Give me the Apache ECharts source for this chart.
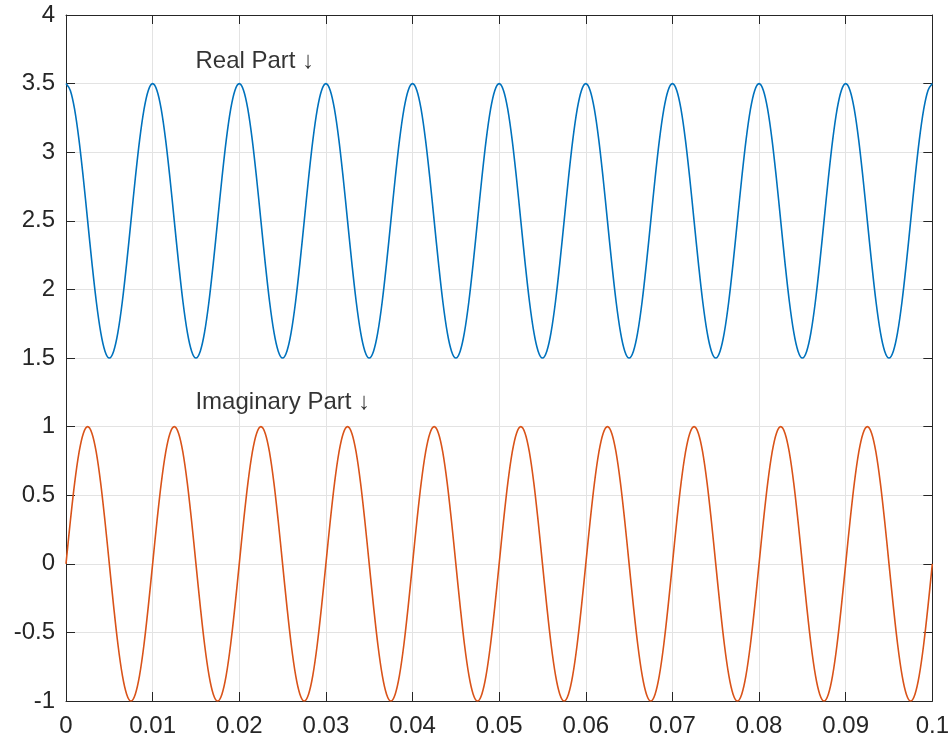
<!DOCTYPE html>
<html>
<head>
<meta charset="utf-8">
<script src="https://cdn.jsdelivr.net/npm/echarts@6/dist/echarts.min.js"></script>
<style>html,body{margin:0;padding:0;background:#fff}#c{width:952px;height:743px}</style>
</head>
<body>
<div id="c"></div>
<script>
const timeValues = [
0,0.0005,0.001,0.0015,0.002,0.0025,0.003,0.0035,0.004,0.0045,0.005,0.0055,0.006,0.0065,0.007,0.0075,0.008,0.0085,0.009,0.0095,
0.01,0.0105,0.011,0.0115,0.012,0.0125,0.013,0.0135,0.014,0.0145,0.015,0.0155,0.016,0.0165,0.017,0.0175,0.018,0.0185,0.019,0.0195,
0.02,0.0205,0.021,0.0215,0.022,0.0225,0.023,0.0235,0.024,0.0245,0.025,0.0255,0.026,0.0265,0.027,0.0275,0.028,0.0285,0.029,0.0295,
0.03,0.0305,0.031,0.0315,0.032,0.0325,0.033,0.0335,0.034,0.0345,0.035,0.0355,0.036,0.0365,0.037,0.0375,0.038,0.0385,0.039,0.0395,
0.04,0.0405,0.041,0.0415,0.042,0.0425,0.043,0.0435,0.044,0.0445,0.045,0.0455,0.046,0.0465,0.047,0.0475,0.048,0.0485,0.049,0.0495,
0.05,0.0505,0.051,0.0515,0.052,0.0525,0.053,0.0535,0.054,0.0545,0.055,0.0555,0.056,0.0565,0.057,0.0575,0.058,0.0585,0.059,0.0595,
0.06,0.0605,0.061,0.0615,0.062,0.0625,0.063,0.0635,0.064,0.0645,0.065,0.0655,0.066,0.0665,0.067,0.0675,0.068,0.0685,0.069,0.0695,
0.07,0.0705,0.071,0.0715,0.072,0.0725,0.073,0.0735,0.074,0.0745,0.075,0.0755,0.076,0.0765,0.077,0.0775,0.078,0.0785,0.079,0.0795,
0.08,0.0805,0.081,0.0815,0.082,0.0825,0.083,0.0835,0.084,0.0845,0.085,0.0855,0.086,0.0865,0.087,0.0875,0.088,0.0885,0.089,0.0895,
0.09,0.0905,0.091,0.0915,0.092,0.0925,0.093,0.0935,0.094,0.0945,0.095,0.0955,0.096,0.0965,0.097,0.0975,0.098,0.0985,0.099,0.0995,
0.1
];
const realPart = [
3.5,3.45,3.31,3.09,2.81,2.5,2.19,1.91,1.69,1.55,1.5,1.55,1.69,1.91,2.19,2.5,2.81,3.09,3.31,3.45,
3.5,3.45,3.31,3.09,2.81,2.5,2.19,1.91,1.69,1.55,1.5,1.55,1.69,1.91,2.19,2.5,2.81,3.09,3.31,3.45,
3.5,3.45,3.31,3.09,2.81,2.5,2.19,1.91,1.69,1.55,1.5,1.55,1.69,1.91,2.19,2.5,2.81,3.09,3.31,3.45,
3.5,3.45,3.31,3.09,2.81,2.5,2.19,1.91,1.69,1.55,1.5,1.55,1.69,1.91,2.19,2.5,2.81,3.09,3.31,3.45,
3.5,3.45,3.31,3.09,2.81,2.5,2.19,1.91,1.69,1.55,1.5,1.55,1.69,1.91,2.19,2.5,2.81,3.09,3.31,3.45,
3.5,3.45,3.31,3.09,2.81,2.5,2.19,1.91,1.69,1.55,1.5,1.55,1.69,1.91,2.19,2.5,2.81,3.09,3.31,3.45,
3.5,3.45,3.31,3.09,2.81,2.5,2.19,1.91,1.69,1.55,1.5,1.55,1.69,1.91,2.19,2.5,2.81,3.09,3.31,3.45,
3.5,3.45,3.31,3.09,2.81,2.5,2.19,1.91,1.69,1.55,1.5,1.55,1.69,1.91,2.19,2.5,2.81,3.09,3.31,3.45,
3.5,3.45,3.31,3.09,2.81,2.5,2.19,1.91,1.69,1.55,1.5,1.55,1.69,1.91,2.19,2.5,2.81,3.09,3.31,3.45,
3.5,3.45,3.31,3.09,2.81,2.5,2.19,1.91,1.69,1.55,1.5,1.55,1.69,1.91,2.19,2.5,2.81,3.09,3.31,3.45,
3.5
];
const imagPart = [
0,0.31,0.59,0.81,0.95,1,0.95,0.81,0.59,0.31,0,-0.31,-0.59,-0.81,-0.95,-1,-0.95,-0.81,-0.59,-0.31,
0,0.31,0.59,0.81,0.95,1,0.95,0.81,0.59,0.31,0,-0.31,-0.59,-0.81,-0.95,-1,-0.95,-0.81,-0.59,-0.31,
0,0.31,0.59,0.81,0.95,1,0.95,0.81,0.59,0.31,0,-0.31,-0.59,-0.81,-0.95,-1,-0.95,-0.81,-0.59,-0.31,
0,0.31,0.59,0.81,0.95,1,0.95,0.81,0.59,0.31,0,-0.31,-0.59,-0.81,-0.95,-1,-0.95,-0.81,-0.59,-0.31,
0,0.31,0.59,0.81,0.95,1,0.95,0.81,0.59,0.31,0,-0.31,-0.59,-0.81,-0.95,-1,-0.95,-0.81,-0.59,-0.31,
0,0.31,0.59,0.81,0.95,1,0.95,0.81,0.59,0.31,0,-0.31,-0.59,-0.81,-0.95,-1,-0.95,-0.81,-0.59,-0.31,
0,0.31,0.59,0.81,0.95,1,0.95,0.81,0.59,0.31,0,-0.31,-0.59,-0.81,-0.95,-1,-0.95,-0.81,-0.59,-0.31,
0,0.31,0.59,0.81,0.95,1,0.95,0.81,0.59,0.31,0,-0.31,-0.59,-0.81,-0.95,-1,-0.95,-0.81,-0.59,-0.31,
0,0.31,0.59,0.81,0.95,1,0.95,0.81,0.59,0.31,0,-0.31,-0.59,-0.81,-0.95,-1,-0.95,-0.81,-0.59,-0.31,
0,0.31,0.59,0.81,0.95,1,0.95,0.81,0.59,0.31,0,-0.31,-0.59,-0.81,-0.95,-1,-0.95,-0.81,-0.59,-0.31,
0
];
const annotationTexts = ['Real Part \u2193', 'Imaginary Part \u2193'];
const annotationT = [0.015, 0.015];
const annotationY = [3.66, 1.17];
const xTickLabels = ['0','0.01','0.02','0.03','0.04','0.05','0.06','0.07','0.08','0.09','0.1'];

const FONT = '"Liberation Sans", Arial, Helvetica, sans-serif';
const AXIS_COLOR = '#262626';
const GRID_COLOR = '#e3e3e3';

const chart = echarts.init(document.getElementById('c'), null, {renderer: 'canvas'});
const realData = timeValues.map((t, i) => [t, realPart[i]]);
const imagData = timeValues.map((t, i) => [t, imagPart[i]]);
const annoData = annotationT.map((t, i) => ({value: [t, annotationY[i]], name: annotationTexts[i]}));

const baseX = {
  type: 'value', min: 0, max: 0.1, interval: 0.01,
  axisLine: {show: true, onZero: false, lineStyle: {color: AXIS_COLOR, width: 1}},
  axisTick: {show: true, inside: true, length: 9, lineStyle: {color: AXIS_COLOR, width: 1}},
};
const baseY = {
  type: 'value', min: -1, max: 4, interval: 0.5,
  axisLine: {show: true, onZero: false, lineStyle: {color: AXIS_COLOR, width: 1}},
  axisTick: {show: true, inside: true, length: 9, lineStyle: {color: AXIS_COLOR, width: 1}},
};

chart.setOption({
  backgroundColor: '#ffffff',
  animation: false,
  grid: {left: 66, right: 17, top: 15, bottom: 42, containLabel: false},
  xAxis: [
    Object.assign({}, baseX, {
      position: 'bottom',
      splitLine: {show: true, lineStyle: {color: GRID_COLOR, width: 1}},
      axisLabel: {
        show: true, margin: 13, color: AXIS_COLOR, fontSize: 24, fontFamily: FONT,
        formatter: v => xTickLabels[Math.round(v / 0.01)]
      }
    }),
    Object.assign({}, baseX, {
      position: 'top', splitLine: {show: false}, axisLabel: {show: false}
    })
  ],
  yAxis: [
    Object.assign({}, baseY, {
      position: 'left',
      splitLine: {show: true, lineStyle: {color: GRID_COLOR, width: 1}},
      axisLabel: {
        show: true, margin: 11, color: AXIS_COLOR, fontSize: 24, fontFamily: FONT,
        formatter: v => String(+v.toFixed(1))
      }
    }),
    Object.assign({}, baseY, {
      position: 'right', splitLine: {show: false}, axisLabel: {show: false}
    })
  ],
  series: [
    {
      name: 'Real', type: 'line', xAxisIndex: 0, yAxisIndex: 0,
      data: realData, showSymbol: false, symbol: 'none', smooth: 0.35,
      lineStyle: {color: '#0072BD', width: 1.6}, z: 3
    },
    {
      name: 'Imaginary', type: 'line', xAxisIndex: 0, yAxisIndex: 0,
      data: imagData, showSymbol: false, symbol: 'none', smooth: 0.35,
      lineStyle: {color: '#D95319', width: 1.6}, z: 3
    },
    {
      name: 'Annotations', type: 'scatter', xAxisIndex: 0, yAxisIndex: 0,
      data: annoData, symbolSize: 1, itemStyle: {color: 'rgba(0,0,0,0)'},
      silent: true, z: 5,
      label: {
        show: true, position: [0, 0], align: 'left', verticalAlign: 'middle',
        formatter: p => p.name, color: '#000000', fontSize: 24, fontFamily: FONT
      }
    }
  ]
});
</script>
</body>
</html>
